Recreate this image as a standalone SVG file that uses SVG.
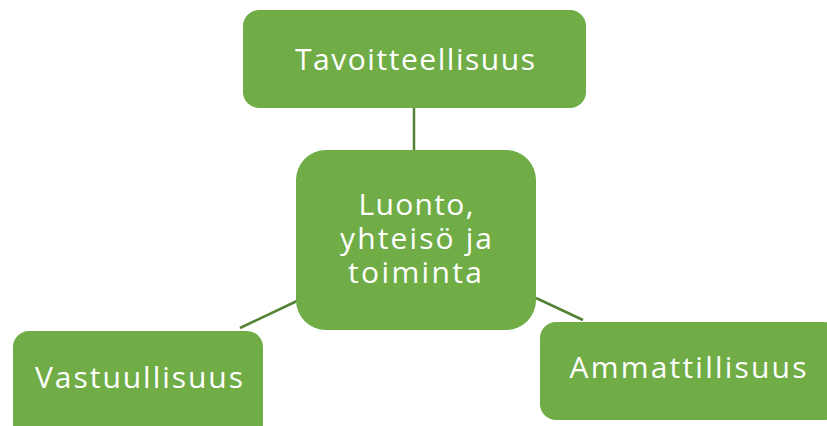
<svg xmlns="http://www.w3.org/2000/svg" width="827" height="426" viewBox="0 0 827 426">
<style>
.box{fill:#70AD47;}
.t{font-family:"Open Sans","Liberation Sans",sans-serif;font-size:30px;fill:#ffffff;text-anchor:middle;}
.c{stroke:#548235;stroke-width:2.5;fill:none;}
</style>
<rect width="827" height="426" fill="#ffffff"/>
<g id="connectors">
<line class="c" x1="414" y1="108" x2="414" y2="151"/>
<line class="c" x1="240" y1="328" x2="297" y2="301"/>
<line class="c" x1="536" y1="298" x2="583" y2="320"/>
</g>
<g id="tavoitteellisuus">
<rect class="box" x="243" y="10" width="343" height="98" rx="16"/>
<text class="t" x="415" y="70" textLength="240" lengthAdjust="spacing">Tavoitteellisuus</text>
</g>
<g id="luonto">
<rect class="box" x="296" y="150" width="240" height="180" rx="30"/>
<text class="t" x="416" y="215" textLength="115" lengthAdjust="spacing">Luonto,</text>
<text class="t" x="416" y="249" textLength="152" lengthAdjust="spacing">yhteisö ja</text>
<text class="t" x="415" y="283" textLength="134" lengthAdjust="spacing">toiminta</text>
</g>
<g id="vastuullisuus">
<rect class="box" x="13" y="331" width="250" height="110" rx="16"/>
<text class="t" x="139" y="388" textLength="208" lengthAdjust="spacing">Vastuullisuus</text>
</g>
<g id="ammattillisuus">
<rect class="box" x="540" y="322" width="300" height="98" rx="16"/>
<text class="t" x="688" y="378" textLength="237" lengthAdjust="spacing">Ammattillisuus</text>
</g>
</svg>
